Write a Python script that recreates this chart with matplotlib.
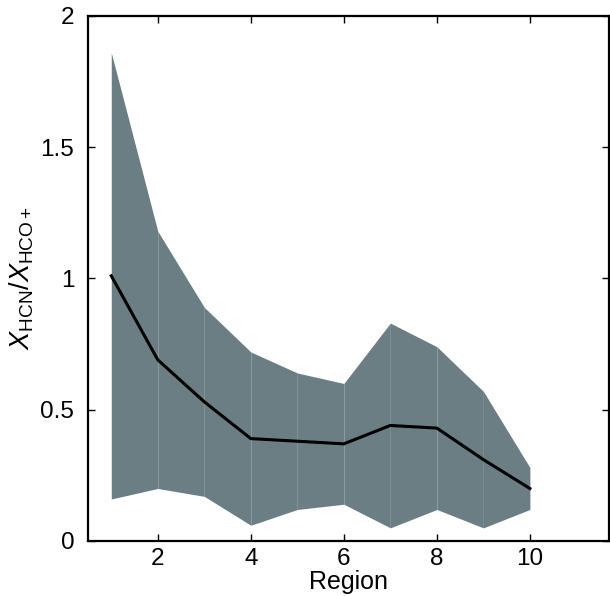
import numpy as np
import matplotlib
matplotlib.use("Agg")
import matplotlib.pyplot as plt

plt.rcParams['font.family'] = ['Liberation Sans', 'DejaVu Sans']
plt.rcParams['mathtext.fontset'] = 'custom'
plt.rcParams['mathtext.rm'] = 'Liberation Sans'
plt.rcParams['mathtext.it'] = 'Liberation Sans:italic'

region = np.arange(1, 11)
ratio_mean = [1.01, 0.69, 0.53, 0.39, 0.38, 0.37, 0.44, 0.43, 0.31, 0.20]
ratio_upper = [1.86, 1.18, 0.89, 0.72, 0.64, 0.60, 0.83, 0.74, 0.57, 0.28]
ratio_lower = [0.16, 0.20, 0.17, 0.06, 0.12, 0.14, 0.05, 0.12, 0.05, 0.12]

fig = plt.figure(figsize=(6.1, 5.96), dpi=100)
ax = fig.add_axes([0.1443, 0.0923, 0.854, 0.881])

# fill segment by segment (gives the faint seams between regions)
for i in range(len(region) - 1):
    ax.fill_between(region[i:i + 2], ratio_lower[i:i + 2], ratio_upper[i:i + 2],
                    color='#6a7e84', lw=0, antialiased=True)
ax.plot(region, ratio_mean, color='black', lw=2.2)

ax.set_xlim(0.5, 11.7)
ax.set_ylim(0, 2)
ax.set_xticks([2, 4, 6, 8, 10])
ax.set_yticks([0, 0.5, 1, 1.5, 2])
ax.set_yticklabels(['0', '0.5', '1', '1.5', '2'])
ax.tick_params(direction='in', top=True, right=True, labelsize=17.5,
               length=5, width=1)
ax.tick_params(axis='y', pad=10)
ax.tick_params(axis='x', pad=5)
for s in ax.spines.values():
    s.set_linewidth(1.6)

ax.set_xlabel('Region', fontsize=18, labelpad=0)
ax.set_ylabel(r'$X_{\rm HCN}/X_{\rm HCO+}$', fontsize=19.5, labelpad=3)

fig.savefig('out.png', dpi=100)
